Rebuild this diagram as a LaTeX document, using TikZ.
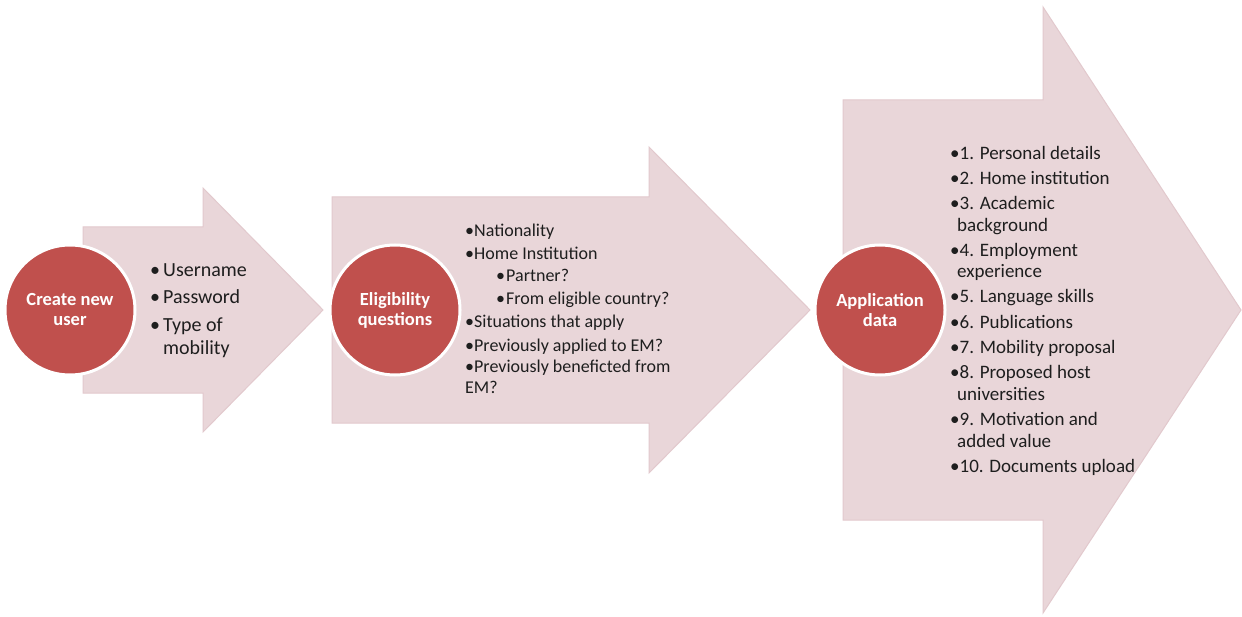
\documentclass[tikz,border=0pt]{standalone}
\usepackage{fontspec}
\setmainfont{Carlito}
\definecolor{arrowpink}{HTML}{E9D6D9}
\definecolor{arrowedge}{HTML}{E2C9CD}
\definecolor{circred}{HTML}{C0504D}
\definecolor{txtdark}{HTML}{1E1E1E}
\begin{document}
\begin{tikzpicture}[x=1pt,y=-1pt,
  arrowshape/.style={fill=arrowpink, draw=arrowedge, line width=1pt, line join=miter},
  stepcirc/.style={circle, fill=circred, draw=white, line width=3pt, minimum size=130pt, inner sep=0pt, text=white, align=center, font=\fontsize{18.5}{20}\selectfont\bfseries},
  lineA/.style={anchor=base west, inner sep=0pt, text=txtdark, font=\fontsize{20}{23}\selectfont},
  lineB/.style={anchor=base west, inner sep=0pt, text=txtdark, font=\fontsize{18}{22}\selectfont},
  lineC/.style={anchor=base west, inner sep=0pt, text=txtdark, font=\fontsize{19}{22}\selectfont}]
\useasboundingbox[fill=white] (0,0) rectangle (1242,617);
% arrows
\path[arrowshape] (83,227) -- (203,227) -- (203,188) -- (323,310) -- (203,432) -- (203,393) -- (83,393) -- cycle;
\path[arrowshape] (332,197) -- (649,197) -- (649,147) -- (810,310) -- (649,473) -- (649,423) -- (332,423) -- cycle;
\path[arrowshape] (843,100) -- (1043,100) -- (1043,7) -- (1241,310) -- (1043,613) -- (1043,520) -- (843,520) -- cycle;
% circles
\node[stepcirc] (c1) at (70,310) {Create new\\user};
\node[stepcirc] (c2) at (395,310) {Eligibility\\questions};
\node[stepcirc] (c3) at (880,310) {Application\\data};
% arrow 1 text
\node[lineA] (a1) at (150,277) {\makebox[13pt][l]{•}Username};
\node[lineA] (a2) at (150,304) {\makebox[13pt][l]{•}Password};
\node[lineA] (a3) at (150,332) {\makebox[13pt][l]{•}Type of};
\node[lineA] (a4) at (163,355) {mobility};
% arrow 2 text
\node[lineB] (b1) at (465,237) {•Nationality};
\node[lineB] (b2) at (465,260) {•Home Institution};
\node[lineB] (b3) at (496,282) {\makebox[10pt][l]{•}Partner?};
\node[lineB] (b4) at (496,305) {\makebox[10pt][l]{•}From eligible country?};
\node[lineB] (b5) at (465,328) {•Situations that apply};
\node[lineB] (b6) at (465,352) {•Previously applied to EM?};
\node[lineB] (b7) at (465,373) {•Previously beneficted from};
\node[lineB] (b8) at (465,393) {EM?};
% arrow 3 text
\node[lineC] (d1) at (950,160) {•1. Personal details};
\node[lineC] (d2) at (950,185) {•2. Home institution};
\node[lineC] (d3) at (950,210) {•3. Academic};
\node[lineC] (d3b) at (957,232) {background};
\node[lineC] (d4) at (950,257) {•4. Employment};
\node[lineC] (d4b) at (957,278) {experience};
\node[lineC] (d5) at (950,303) {•5. Language skills};
\node[lineC] (d6) at (950,329) {•6. Publications};
\node[lineC] (d7) at (950,354) {•7. Mobility proposal};
\node[lineC] (d8) at (950,379) {•8. Proposed host};
\node[lineC] (d8b) at (957,400) {universities};
\node[lineC] (d9) at (950,425) {•9. Motivation and};
\node[lineC] (d9b) at (957,447) {added value};
\node[lineC] (d10) at (950,472) {•10. Documents upload};
\end{tikzpicture}
\end{document}
